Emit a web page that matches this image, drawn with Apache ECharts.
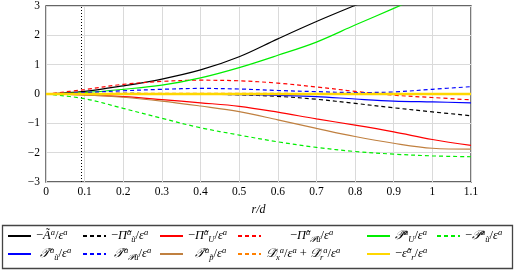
<!DOCTYPE html>
<html><head><meta charset="utf-8">
<script src="https://cdn.jsdelivr.net/npm/echarts@6/dist/echarts.min.js"></script>
<style>html,body{margin:0;padding:0;background:#fff}#c{width:516px;height:271px}</style>
</head><body><div id="c"></div>
<script>
// ---- data ----
const r = [0, 0.1, 0.2, 0.3, 0.4, 0.5, 0.6, 0.7, 0.8, 0.9, 1.0, 1.1];
const negA      = [0, 0.09, 0.28, 0.51, 0.82, 1.27, 1.88, 2.47, 3.02, 3.55, 4.1, 4.6];
const negPiU_   = [0, 0.01, 0.02, 0.01, 0, -0.03, -0.08, -0.18, -0.32, -0.47, -0.61, -0.74];
const negPiUU   = [0, -0.03, -0.09, -0.19, -0.3, -0.42, -0.62, -0.85, -1.06, -1.29, -1.55, -1.75];
const negPiPu   = [0, 0.15, 0.33, 0.43, 0.47, 0.45, 0.37, 0.24, 0.09, -0.04, -0.12, -0.2];
const PU        = [0, 0.05, 0.16, 0.3, 0.55, 0.9, 1.32, 1.77, 2.35, 2.92, 3.5, 4.1];
const negPu     = [0, -0.16, -0.49, -0.83, -1.15, -1.4, -1.63, -1.82, -1.96, -2.05, -2.11, -2.14];
const Tu        = [0, 0, 0, 0, -0.01, -0.02, -0.05, -0.09, -0.17, -0.24, -0.27, -0.3];
const TPu       = [0, 0.05, 0.11, 0.16, 0.19, 0.17, 0.12, 0.08, 0.05, 0.07, 0.16, 0.25];
const Tp        = [0, -0.03, -0.11, -0.24, -0.41, -0.6, -0.88, -1.17, -1.45, -1.68, -1.85, -1.88];
const Dxr       = [0, 0.01, 0.02, 0.02, 0.02, 0.02, 0.02, 0.01, 0.01, 0, 0, 0];
const negEps    = [0, 0, 0, 0, 0, 0, 0, 0, 0, 0, 0, 0];
const xTicks = [0, 0.1, 0.2, 0.3, 0.4, 0.5, 0.6, 0.7, 0.8, 0.9, 1, 1.1];
const yTicks = [-3, -2, -1, 0, 1, 2, 3];
const markX = 0.09;

const S = '{u|/}{i|ε}{p|a}';
const names = ['A','PiU_','PiUU','PiPu','PU','Pu','Tu','TPu','Tp','Dxr','eps'];
const labels = {
  A:    '{u|−}{i|Ã}{p|a}' + S,
  PiU_: '{u|−}{i|Π̃}{p|a}{b|ũ}' + S,
  PiUU: '{u|−}{i|Π̃}{p|a}{b|U}' + S,
  PiPu: '{u|−}{i|Π̃}{p|a}{b|𝒫ũ}' + S,
  PU:   '{i|𝒫̃}{p|a}{b|U}' + S,
  Pu:   '{u|−}{i|𝒫}{p|a}{b|ũ}' + S,
  Tu:   '{i|𝒯̃}{p|a}{b|ũ}' + S,
  TPu:  '{i|𝒯̃}{p|a}{b|𝒫ũ}' + S,
  Tp:   '{i|𝒯̃}{p|a}{b|p̃}' + S,
  Dxr:  '{i|𝒟̃}{b|x}{p|a}' + S + '{u| + }{i|𝒟̃}{b|r}{p|a}' + S,
  eps:  '{u|−}{i|ε̃}{p|a}{b|r}' + S
};
const values = {A:negA, PiU_:negPiU_, PiUU:negPiUU, PiPu:negPiPu, PU:PU, Pu:negPu, Tu:Tu, TPu:TPu, Tp:Tp, Dxr:Dxr, eps:negEps};
const colors = {A:'#000000', PiU_:'#000000', PiUU:'#ff0000', PiPu:'#ff0000', PU:'#00ee00', Pu:'#00ee00', Tu:'#0000ff', TPu:'#0000ff', Tp:'#c08040', Dxr:'#ff8000', eps:'#ffd700'};
const dashed = {PiU_:1, PiPu:1, Pu:1, TPu:1, Dxr:1};
// legend placement [left, top, pad]
const legPos = {A:[7,228,0], PiU_:[82,228,0], PiUU:[159,228,0], PiPu:[237,228,24], PU:[366,228,0], Pu:[436,228,0],
                Tu:[7,246,4], TPu:[82,246,3], Tp:[159,246,7], Dxr:[237,246,0], eps:[366,246,0]};

const F = 'Liberation Serif, DejaVu Serif, serif';
const rich = {
  i: {fontFamily: F, fontStyle: 'italic', fontSize: 12.5, color: '#000', lineHeight: 16},
  u: {fontFamily: F, fontSize: 12.5, color: '#000', lineHeight: 16},
  p: {fontFamily: F, fontStyle: 'italic', fontSize: 8.5, color: '#000', lineHeight: 9, verticalAlign: 'top'},
  b: {fontFamily: F, fontStyle: 'italic', fontSize: 8.5, color: '#000', lineHeight: 9, verticalAlign: 'bottom'}
};
for (let k = 1; k <= 30; k++) rich['pad' + k] = {width: k};

const series = names.map((n, idx) => {
  const s = {
    name: n, type: 'line', smooth: 0.35, symbol: 'none', showSymbol: false,
    data: r.map((x, j) => [x, values[n][j]]),
    lineStyle: {color: colors[n], width: n === 'eps' ? 2.6 : 1.2, type: dashed[n] ? [4, 3] : 'solid'},
    itemStyle: {color: colors[n]},
    clip: true, z: 2 + idx
  };
  if (idx === 0) {
    s.markLine = {silent: true, symbol: 'none', label: {show: false},
      lineStyle: {color: '#000', type: [1, 2], width: 1}, data: [{xAxis: markX}]};
  }
  return s;
});

const legends = names.map(n => ({
  data: [{name: n, icon: 'inherit'}], left: legPos[n][0], top: legPos[n][1], padding: 0,
  itemWidth: 23, itemHeight: 10, selectedMode: false,
  itemStyle: {opacity: 0},
  textStyle: {rich: rich},
  formatter: () => (legPos[n][2] ? '{pad' + legPos[n][2] + '|}' : '') + labels[n]
}));

const fmt = v => { const t = +(+v).toFixed(1); return t < 0 ? '−' + (-t) : String(t); };

const chart = echarts.init(document.getElementById('c'), null, {renderer: 'canvas'});
chart.setOption({
  animation: false,
  backgroundColor: '#fff',
  grid: {left: 46, right: 45, top: 6, bottom: 89, show: true, borderColor: '#333', borderWidth: 1.3},
  xAxis: {
    type: 'value', min: xTicks[0], max: xTicks[xTicks.length - 1], interval: 0.1,
    axisLine: {show: false}, axisTick: {show: false},
    splitLine: {lineStyle: {color: '#dadada', width: 1}},
    axisLabel: {formatter: fmt, color: '#000', fontFamily: F, fontSize: 11.5, margin: 4},
    name: 'r/d', nameLocation: 'middle', nameGap: 22,
    nameTextStyle: {fontFamily: F, fontStyle: 'italic', fontSize: 12, color: '#000'}
  },
  yAxis: {
    type: 'value', min: yTicks[0], max: yTicks[yTicks.length - 1], interval: 1,
    axisLine: {show: false}, axisTick: {show: false},
    splitLine: {lineStyle: {color: '#dadada', width: 1}},
    axisLabel: {formatter: fmt, color: '#000', fontFamily: F, fontSize: 11.5, margin: 6}
  },
  legend: legends,
  graphic: [{type: 'rect', shape: {x: 2.5, y: 225.5, width: 510, height: 43},
    style: {fill: 'none', stroke: '#444', lineWidth: 1.3}, silent: true, z: 0}],
  series: series
});
</script></body></html>
